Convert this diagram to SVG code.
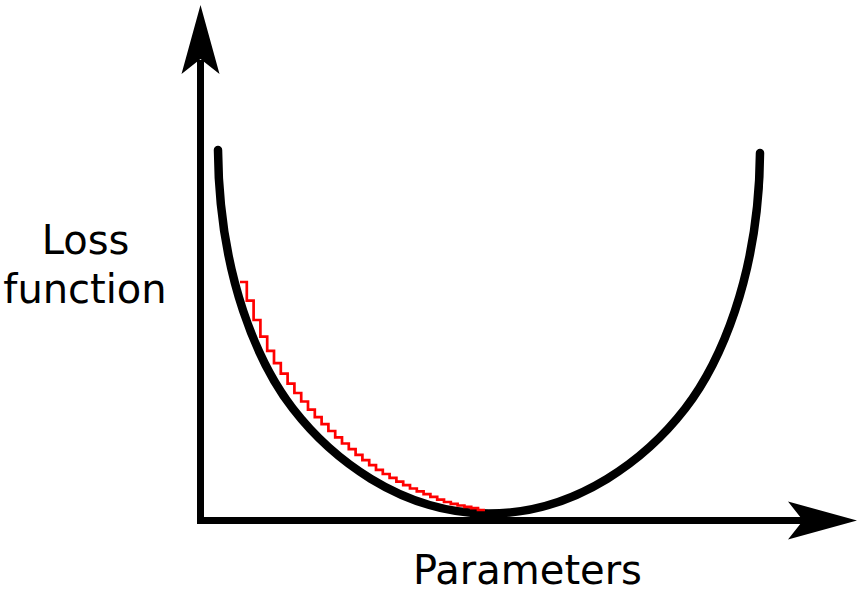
<svg xmlns="http://www.w3.org/2000/svg" width="863" height="591" viewBox="0 0 863 591">
<style>
.axis{fill:none;stroke:#000;stroke-width:7}
.head{fill:#000;stroke:none}
.curve{fill:none;stroke:#000;stroke-width:8.5;stroke-linecap:round}
.steps{fill:none;stroke:#ff0000;stroke-width:2.7;stroke-linejoin:miter}
.lbl{font-family:"DejaVu Sans",sans-serif;font-size:40px;fill:#000;text-anchor:middle}
</style>
<rect width="863" height="591" fill="#fff"/>
<g id="connectors">
<g id="y-axis">
<line class="axis" x1="200.5" y1="524" x2="200.5" y2="60"/>
<path class="head" d="M200.5,5 L219.5,74 L200.5,59 L181.5,74 Z"/>
</g>
<g id="x-axis">
<line class="axis" x1="197" y1="520.5" x2="804" y2="520.5"/>
<path class="head" d="M857,520.5 L788,539.5 L803,520.5 L788,501.5 Z"/>
</g>
</g>
<g id="loss-curve">
<path class="curve" d="M218,150 C219,278 259.3,365.1 292.8,408.5 C329.4,455.9 399,513.5 489,513.5 C579,513.5 648.6,455.9 685.2,408.5 C718.7,365.1 759,278 760,153"/>
</g>
<g id="descent-steps">
<path class="steps" d="M240,282 H246.8 V300.7 H253.6 V320 H260.4 V336.7 H267.2 V350.9 H274 V363.1 H280.8 V373.7 H287.6 V383.6 H294.4 V393 H301.2 V401.5 H308 V409.6 H314.8 V417.1 H321.6 V424.2 H328.4 V431 H335.2 V437.3 H342 V443.5 H348.8 V449.2 H355.6 V454.9 H362.4 V460.2 H369.2 V465.1 H376 V469.9 H382.8 V474 H389.6 V477.9 H396.4 V481.7 H403.2 V485.1 H410 V488.5 H416.8 V491.4 H423.6 V494.1 H430.4 V496.9 H437.2 V499.6 H444 V502 H450.8 V503.9 H457.6 V505.5 H464.4 V506.9 H471.2 V508.2 H478 V510 H485"/>
</g>
<g id="label-loss">
<text class="lbl" x="85.5" y="254">Loss</text>
<text class="lbl" x="85" y="303">function</text>
</g>
<g id="label-params">
<text class="lbl" x="527.5" y="584">Parameters</text>
</g>
</svg>
